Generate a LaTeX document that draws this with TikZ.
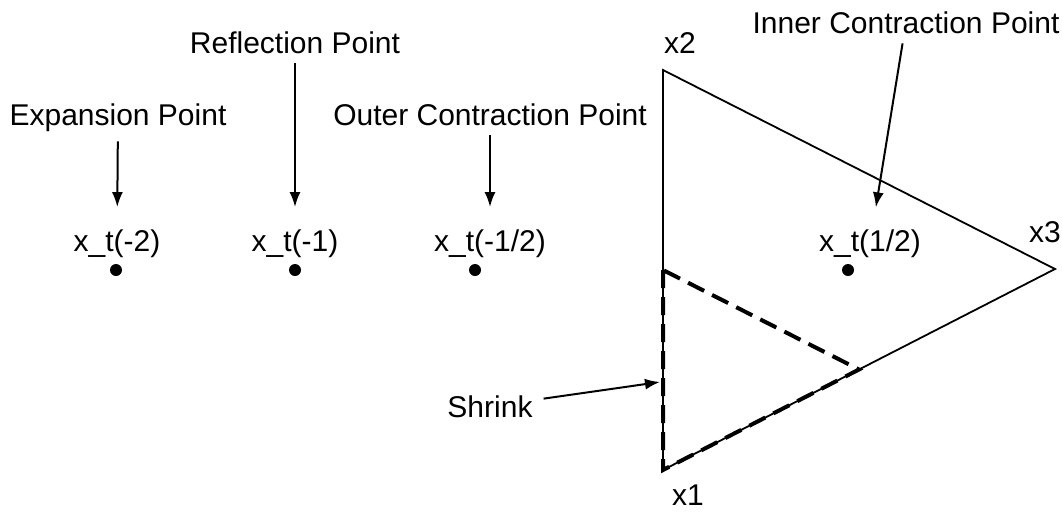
\documentclass[tikz,border=0pt]{standalone}
\usepackage{fontspec}
\setmainfont{Liberation Sans}
\usetikzlibrary{arrows.meta, positioning, calc}

\begin{document}
\begin{tikzpicture}[x=1pt, y=-1pt, >={Latex[length=15pt,width=11pt]}]
                    \tikzstyle{lbl} = [inner sep=0pt, anchor=base, font=\fontsize{30}{36}\selectfont]
                    \tikzstyle{dot} = [circle, fill=black, inner sep=0pt, minimum size=12pt]
                    \tikzstyle{arr} = [->, line width=2pt, shorten <=10pt, shorten >=22pt]
                    \tikzstyle{edge} = [line width=1.8pt]
                    \tikzstyle{shrinkline} = [line width=4pt, dash pattern=on 18pt off 9pt]
                    \useasboundingbox (0,0) rectangle (1062,512);

                    % labels of the points
                    \node[lbl] (lexp) at (118,125) {Expansion Point};
                    \node[lbl] (lref) at (295,53) {Reflection Point};
                    \node[lbl] (lout) at (490,125) {Outer Contraction Point};
                    \node[lbl] (linn) at (906,33) {Inner Contraction Point};

                    \node[lbl] (xte) at (117,251) {x\_t(-2)};
                    \node[lbl] (xtr) at (295,251) {x\_t(-1)};
                    \node[lbl] (xto) at (490,251) {x\_t(-1/2)};
                    \node[lbl] (xti) at (870,251) {x\_t(1/2)};

                    \node[dot] (pe) at (116,270) {};
                    \node[dot] (pr) at (295,270) {};
                    \node[dot] (po) at (475,270) {};
                    \node[dot] (pi) at (848,270) {};

                    % simplex
                    \coordinate (x1) at (663,470);
                    \coordinate (x2) at (663,70);
                    \coordinate (x3) at (1055,269);
                    \coordinate (m12) at ($(x1)!0.5!(x2)$);
                    \coordinate (m13) at ($(x1)!0.5!(x3)$);
                    \coordinate (hit) at ($(x1)!0.22!(x2)+(-3,0)$);

                    \node[lbl] (lx1) at (688,505) {x1};
                    \node[lbl] (lx2) at (680,53) {x2};
                    \node[lbl] (lx3) at (1045,242) {x3};
                    \node[lbl] (lshr) at (490,417) {Shrink};

                    \draw[edge, line join=miter] (x1) -- (x2) -- (x3) -- cycle;
                    \draw[shrinkline] (m12) -- (x1) -- (m13) -- (m12);

                    \draw[arr] (lexp) -- (xte);
                    \draw[arr] (lref) -- (xtr);
                    \draw[arr] (lout) -- (xto);
                    \draw[arr] (linn) -- (xti);
                    \draw[->, line width=2pt, shorten <=11pt] (lshr) -- (hit);
                \end{tikzpicture}
\end{document}
